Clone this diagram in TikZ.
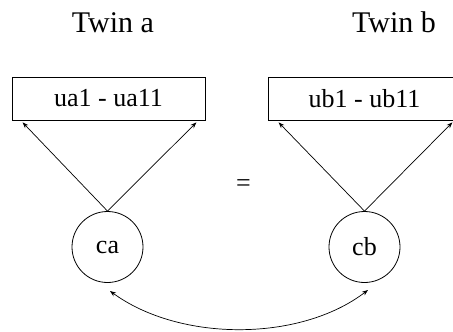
\documentclass[tikz,border=0pt]{standalone}
\usepackage{fontspec}
\setmainfont{Liberation Serif}
\usetikzlibrary{arrows.meta}
\begin{document}
\begin{tikzpicture}[x=1pt,y=-1pt,
  lab/.style={font=\fontsize{26}{30}\selectfont},
  ttl/.style={font=\fontsize{30}{34}\selectfont, anchor=base},
  obs/.style={draw, line width=0.8pt, minimum width=193pt, minimum height=43pt, inner sep=0pt, lab},
  lat/.style={draw, circle, line width=0.8pt, minimum size=71pt, inner sep=0pt, lab},
  arr/.style={line width=0.7pt, -{Stealth[length=6pt,width=4.5pt]}},
  darr/.style={line width=0.7pt, {Stealth[length=6pt,width=4.5pt]}-{Stealth[length=6pt,width=4.5pt]}}]
\useasboundingbox (0,0) rectangle (453,332);
\node[ttl] (ta) at (113,32) {Twin a};
\node[ttl] (tb) at (394,32) {Twin b};
\node[obs] (ua) at (108.5,98.5) {ua1 - ua11};
\node[obs] (ub) at (364.5,98.5) {ub1 - ub11};
\node[lat] (ca) at (107.5,247) {ca};
\node[lat] (cb) at (364.5,247) {cb};
\node[lab] (eq) at (243.5,186) {=};
\draw[arr] (ca.north) -- ([xshift=11pt,yshift=-2pt]ua.south west);
\draw[arr] (ca.north) -- ([xshift=-9pt,yshift=-2pt]ua.south east);
\draw[arr] (cb.north) -- ([xshift=11pt,yshift=-2pt]ub.south west);
\draw[arr] (cb.north) -- ([xshift=-9pt,yshift=-2pt]ub.south east);
\coordinate (c1) at (110,291);
\coordinate (c2) at (368,290);
\draw[darr] (c1) .. controls (180,342) and (300,342) .. (c2);
\end{tikzpicture}
\end{document}
